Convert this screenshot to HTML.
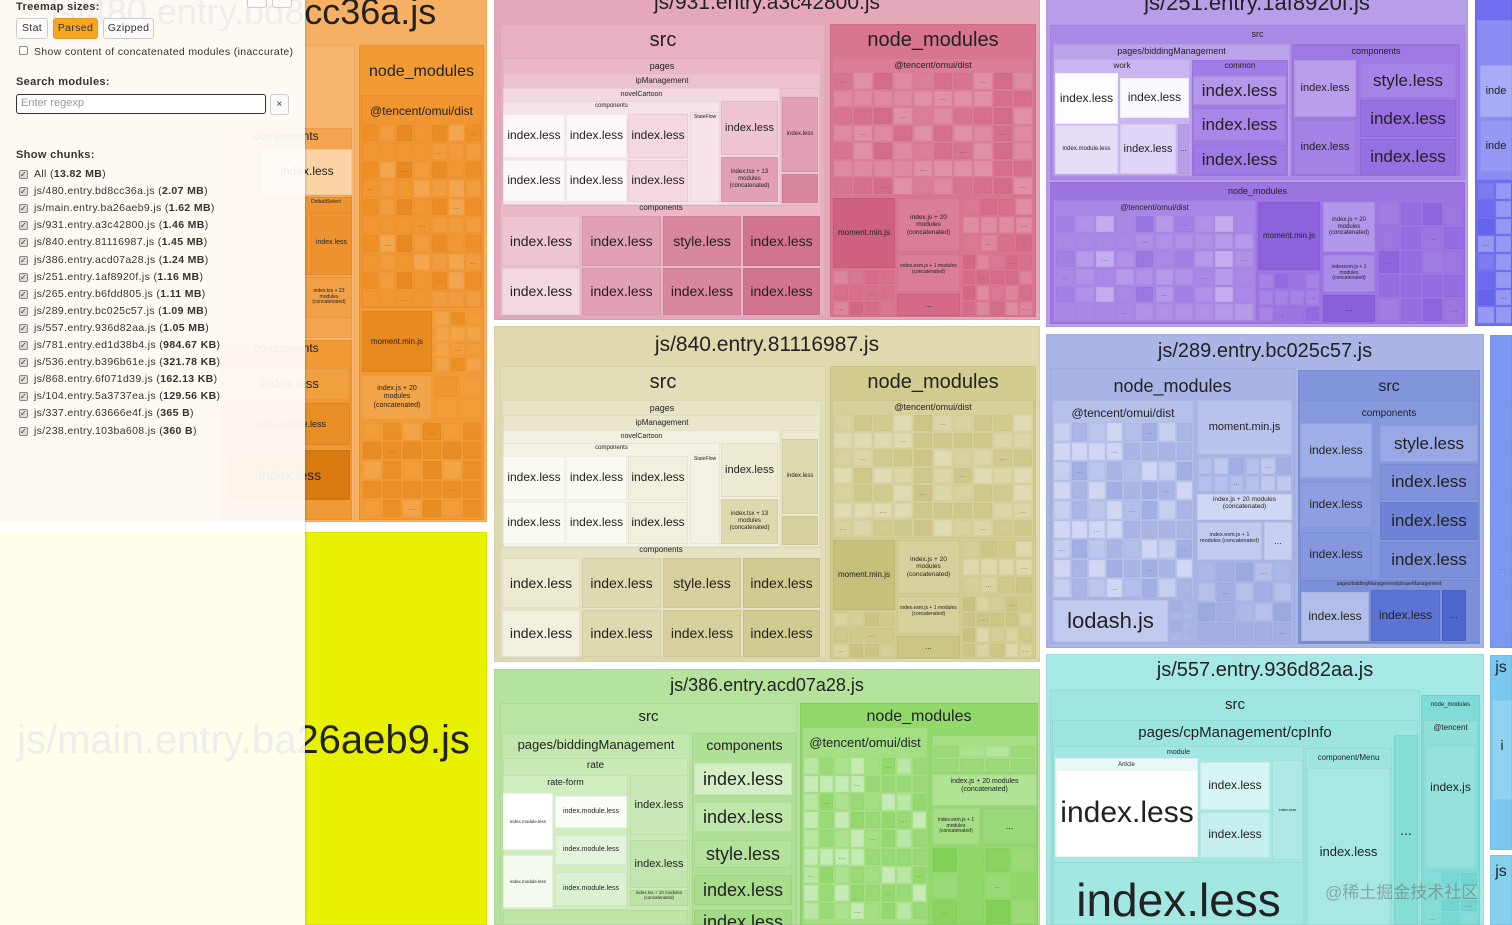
<!DOCTYPE html>
<html><head><meta charset="utf-8">
<style>
html,body{margin:0;padding:0;width:1512px;height:925px;overflow:hidden;background:#fff;font-family:"Liberation Sans","DejaVu Sans",sans-serif;}
#root{position:absolute;left:0;top:0;width:1512px;height:925px;overflow:hidden;}
.b{position:absolute;box-sizing:border-box;box-shadow:inset 0 0 0 1px rgba(0,0,0,0.05);overflow:hidden;}
.b span{position:absolute;left:0;right:0;text-align:center;white-space:nowrap;color:#222;}
#side{position:absolute;left:0;top:0;width:305px;height:925px;background:rgba(255,255,255,0.92);box-shadow:1px 0 2px rgba(0,0,0,0.15);font-size:10.5px;color:#333;letter-spacing:0.35px;}
#side .h{position:absolute;left:16px;font-weight:bold;font-size:11px;}
.btn{position:absolute;top:18px;height:21px;border:1px solid #ccc;border-radius:3px;background:#fafafa;box-sizing:border-box;font-size:10.5px;line-height:19px;text-align:center;}
.cb{position:absolute;left:19px;width:9px;height:9px;border:1px solid #888;border-radius:2px;background:#ddd;box-sizing:border-box;font-size:8px;line-height:8px;text-align:center;color:#333;}
.it{position:absolute;left:34px;white-space:nowrap;}
</style></head>
<body>
<div id="root"></div>
<div id="side">
  <div class="h" style="top:1px">Treemap sizes:</div>
  <div class="btn" style="left:247px;top:-6px;width:20px;height:14px"></div>
  <div class="btn" style="left:272px;top:-6px;width:20px;height:14px"></div>
  <div class="btn" style="left:16px;width:32px">Stat</div>
  <div class="btn" style="left:53px;width:45px;background:#f5a623;border-color:#e39a1c">Parsed</div>
  <div class="btn" style="left:103px;width:51px">Gzipped</div>
  <div class="cb" style="top:46px;background:#fff"></div>
  <div class="it" style="top:46px">Show content of concatenated modules (inaccurate)</div>
  <div class="h" style="top:76px">Search modules:</div>
  <div style="position:absolute;left:16px;top:94px;width:250px;height:20px;border:1.5px solid #333;border-radius:3px;box-sizing:border-box;background:#fff;color:#999;font-size:11px;line-height:17px;padding-left:4px;letter-spacing:0">Enter regexp</div>
  <div class="btn" style="left:270px;top:94px;width:19px;height:21px;font-size:10px">×</div>
  <div class="h" style="top:149px">Show chunks:</div>
  <div id="chunks"></div>
</div>
<script>
const root=document.getElementById('root');
function B(name,x1,y1,x2,y2,bg,txt,fs,cy){
  const el=document.createElement('div');
  el.className='b';
  el.style.left=x1+'px';el.style.top=y1+'px';el.style.width=(x2-x1)+'px';el.style.height=(y2-y1)+'px';
  el.style.background=bg;
  
  
  if(txt){
    const s=document.createElement('span');
    s.textContent=txt;
    s.style.fontSize=fs+'px';
    s.style.lineHeight=(fs*1.15)+'px';
    if(txt.indexOf('(concatenated)')>=0){s.style.whiteSpace='normal';s.style.padding='0 2px';}
    const c=(cy==null)?(y2-y1)/2:(cy-y1);
    const lines=(txt.indexOf('(concatenated)')>=0)?3:1;
    s.style.top=(c-fs*0.575*lines)+'px';
    el.appendChild(s);
  }
  root.appendChild(el);
  return el;
}
function tex(x1,y1,x2,y2,cols,rows,colors,seed){
  const w=(x2-x1)/cols,h=(y2-y1)/rows;
  for(let i=0;i<cols;i++)for(let j=0;j<rows;j++){
    const k=(i*5+j*3+seed+(i*j)%4)%colors.length;
    const el=document.createElement('div');
    el.className='b';
    el.style.left=(x1+i*w+1)+'px';el.style.top=(y1+j*h+1)+'px';
    el.style.width=(w-2)+'px';el.style.height=(h-2)+'px';
    el.style.background=colors[k];
    el.style.opacity='0.45';
    
    
    if((i+j*2+seed)%7===0&&w>14){const s=document.createElement('span');s.textContent='...';s.style.fontSize='8px';s.style.top=(h/2-6)+'px';el.appendChild(s);}
    root.appendChild(el);
  }
}

/* ---- chunk 480 (orange) ---- */
B('chunk-480',0,-10,487,522,'#f6b064','js/480.entry.bd8cc36a.js',36,12);
B('src-480',6,45,355,520,'#f7b46c');
B('components-480',220,128,352,338,'#f5a550','components',12,137);
B('index-less-480a',262,149,352,195,'#fbd3a5','index.less',12);
B('default-select-480',300,197,352,275,'#ef9430','DefaultSelect',5,203);
B('index-less-480b',311,212,352,275,'#ee9330','index.less',7);
B('index-tsx-480',306,277,352,318,'#f2a048','index.tsx + 23 modules (concatenated)',5);
B('components-480b',220,340,352,520,'#f19a35','components',12,349);
B('index-less-480c',230,368,350,400,'#f1a040','index.less',13);
B('module-less-480',230,403,350,445,'#e98d25','index.module.less',9);
B('index-less-480d',230,450,350,500,'#d97a10','index.less',14);
B('node-modules-480',359,45,484,520,'#f29b35','node_modules',16,72);
B('omui-480',361,95,482,308,'#f09530','@tencent/omui/dist',12,112);
tex(362,124,482,308,7,10,['#f3a650','#ec8c1c','#f7bb78','#e88516','#f09b35','#e07c10'],1);
B('moment-480',362,311,432,372,'#e98a20','moment.min.js',8);
tex(434,311,482,372,3,4,['#f0a040','#e48418','#f5b060'],2);
B('rc-trigger-480',362,375,432,420,'#f2a448','index.js + 20 modules (concatenated)',7);
tex(434,375,482,420,2,2,['#f0a040','#ea9028'],3);
tex(362,422,482,518,6,5,['#f0a040','#e48418','#f5b060','#dc7a10'],4);

/* ---- main (yellow) ---- */
B('chunk-main',0,532,487,925,'#e8f200','js/main.entry.ba26aeb9.js',40,740);

/* ---- 931 / 840 shared layout ---- */
function chunkA(id,dy,t,P){
  B('chunk-'+id,494,-16+dy,1040,320+dy,P.chunk,t,21,3+dy);
  B('src-'+id,500,24+dy,826,317+dy,P.src,'src',20,40+dy);
  B('pages-'+id,502,58+dy,822,205+dy,P.pages,'pages',9,66+dy);
  B('ip-management-'+id,503,73+dy,821,205+dy,P.pages2,'ipManagement',8,81+dy);
  B('novel-cartoon-'+id,503,88+dy,780,205+dy,P.light,'novelCartoon',7,95+dy);
  B('components-'+id,503,101+dy,720,205+dy,P.light2,'components',6,106+dy);
  const xs=[[503,565],[566,627],[628,688]];
  xs.forEach((x,i)=>{
    B('index-less-'+id,x[0],114+dy,x[1],158+dy,i==2?P.light:P.white,'index.less',12);
    B('index-less-'+id,x[0],160+dy,x[1],202+dy,i==2?P.light:P.white,'index.less',12);
  });
  B('state-flow-'+id,690,112+dy,720,202+dy,P.light2,'StateFlow',5,118+dy);
  B('index-less-'+id,721,101+dy,778,155+dy,P.c1,'index.less',11);
  B('index-tsx-'+id,721,157+dy,778,202+dy,P.c2,'index.tsx + 13 modules (concatenated)',6);
  B('folder-'+id,781,88+dy,820,205+dy,P.c1);
  B('index-less-'+id,782,97+dy,818,172+dy,P.c2,'index.less',6);
  B('folder-small-'+id,782,174+dy,818,203+dy,P.c3);
  B('components-bottom-'+id,500,205+dy,822,316+dy,P.pages,'components',8,208+dy);
  const bx=[[502,580],[582,661],[663,741],[743,820]];
  const n1=['index.less','index.less','style.less','index.less'];
  const cs=[P.c1,P.c2,P.c3,P.c4];
  bx.forEach((x,i)=>{
    B('index-less-'+id,x[0],216+dy,x[1],266+dy,cs[i],n1[i],14);
    B('index-less-'+id,x[0],268+dy,x[1],315+dy,i==0?P.light:cs[i],'index.less',14);
  });
  B('node-modules-'+id,830,24+dy,1036,317+dy,P.nm,'node_modules',20,40+dy);
  B('omui-'+id,832,58+dy,1034,196+dy,P.nm2,'@tencent/omui/dist',9,65+dy);
  tex(833,72+dy,1033,195+dy,10,7,P.cells,dy%5);
  B('moment-'+id,833,198+dy,895,268+dy,P.cells[1],'moment.min.js',8);
  B('rc-trigger-'+id,897,198+dy,960,252+dy,P.nm2,'index.js + 20 modules (concatenated)',6.5);
  tex(962,198+dy,1033,252+dy,4,3,P.cells,2);
  B('react-window-'+id,897,254+dy,960,292+dy,P.nm2,'index.esm.js + 1 modules (concatenated)',5);
  B('popperjs-'+id,897,294+dy,960,316+dy,P.cells[0],'...',8);
  tex(833,270+dy,895,316+dy,4,3,P.cells,3);
  tex(962,254+dy,1033,316+dy,5,4,P.cells,4);
}
chunkA('931',0,'js/931.entry.a3c42800.js',{chunk:'#e5a8bb',src:'#e8b0c1',pages:'#eab8c8',pages2:'#edc2d0',light:'#f3d8e1',light2:'#f6e2e8',white:'#fdf7f9',c1:'#efc5d2',c2:'#e2a0b5',c3:'#d9869f',c4:'#d27490',nm:'#d9758f',nm2:'#db7d96',cells:['#d46a88','#cf6080','#dc8099','#e39cb0','#c9587a','#e8aabb']});
chunkA('840',342,'js/840.entry.81116987.js',{chunk:'#dedaae',src:'#e2dfb8',pages:'#e6e3c4',pages2:'#e9e6cb',light:'#f1efdd',light2:'#f4f2e5',white:'#fbfaf2',c1:'#ecead0',c2:'#dedaaf',c3:'#d6d19c',c4:'#d0cb90',nm:'#d2cc90',nm2:'#d6d09a',cells:['#ccc684','#c6c07a','#d9d5a4','#e3e0bb','#c0b970','#ebe9cf']});

/* ---- 251 (purple) ---- */
B('chunk-251',1046,-14,1468,327,'#b89de9','js/251.entry.1af8920f.js',22,3);
B('src-251',1050,25,1465,180,'#ab89e7','src',9,34);
B('pages-251',1053,44,1290,176,'#bba3ec','pages/biddingManagement',9,51);
B('work-251',1054,59,1190,175,'#c9b6f0','work',8,66);
B('index-less-251',1055,73,1118,124,'#fdfcff','index.less',12);
B('index-less-251',1120,78,1189,118,'#fbf9ff','index.less',12);
B('index-module-less-251',1055,125,1118,174,'#e5dcf7','index.module.less',6);
B('index-less-251',1120,124,1176,174,'#e0d5f6','index.less',11);
B('more-251',1178,124,1189,174,'#b89de9','...',8);
B('common-251',1192,60,1288,176,'#a17be6','common',8,66);
B('index-less-251',1193,76,1286,105,'#b496ea','index.less',17);
B('index-less-251',1193,108,1286,141,'#a986e8','index.less',17);
B('index-less-251',1193,145,1286,175,'#a07ae5','index.less',17);
B('components-251',1292,44,1460,176,'#9f78e4','components',9,51);
B('index-less-251',1294,60,1356,117,'#b99eec','index.less',11);
B('index-less-251',1294,120,1356,175,'#a482e6','index.less',11);
B('style-less-251',1360,63,1456,98,'#a684e7','style.less',17);
B('index-less-251',1360,100,1456,137,'#9770e2','index.less',17);
B('index-less-251',1360,139,1456,175,'#9470e0','index.less',17);
B('node-modules-251',1050,182,1465,324,'#9d74e2','node_modules',9,191);
B('omui-251',1053,200,1256,322,'#a886e6','@tencent/omui/dist',8,208);
tex(1055,215,1254,321,10,6,['#b9a0ec','#9f7ae4','#c7b3f0','#8f66de','#ad8ee8','#e6ddf8'],1);
B('moment-251',1258,202,1320,270,'#8e62dc','moment.min.js',8);
tex(1258,273,1320,322,4,3,['#9f7ae4','#8a5fdb','#b197ea'],2);
B('rc-trigger-251',1323,202,1375,252,'#b097ea','index.js + 20 modules (concatenated)',6);
B('react-window-251',1323,255,1375,292,'#a98ee8','indexesm.js + 1 modules (concatenated)',5);
B('popperjs-251',1323,295,1375,322,'#8a5fdb','...',8);
tex(1378,202,1465,322,4,5,['#8f66de','#7f52d6','#9f7ae4','#a886e6'],3);

/* ---- right strip top ---- */
B('chunk-265',1475,-5,1512,326,'#6f6ff0');
B('src-265',1477,20,1512,180,'#8a8df2');
B('index-less-265',1480,65,1512,117,'#a8acf6','inde',11);
B('index-less-265',1480,120,1512,172,'#9598f4','inde',11);
tex(1477,182,1512,324,2,8,['#6a66ee','#8a8df2','#c8cbf8','#5b57ea'],1);

/* ---- 289 (blue) ---- */
B('chunk-289',1046,334,1484,648,'#aab6e6','js/289.entry.bc025c57.js',20,351);
B('node-modules-289',1050,368,1295,644,'#a8b4e6','node_modules',18,386);
B('omui-289',1052,400,1194,598,'#b4bfea','@tencent/omui/dist',12,414);
tex(1053,422,1193,598,8,9,['#c8d0f0','#9eabe2','#dfe4f7','#8d9cdd','#b2bdea','#f4f6fc'],2);
B('lodash-289',1053,600,1168,642,'#c2cbef','lodash.js',22);
tex(1170,600,1193,642,2,4,['#b2bdea','#9eabe2'],1);
B('moment-289',1197,400,1292,455,'#b8c2ec','moment.min.js',11);
tex(1197,457,1292,492,6,2,['#c8d0f0','#9eabe2','#dfe4f7'],3);
B('rc-trigger-289',1197,494,1292,520,'#d0d7f2','index.js + 20 modules (concatenated)',6.5);
B('react-window-289',1197,522,1262,560,'#c2cbef','index.esm.js + 1 modules (concatenated)',5.5);
B('more-289',1264,522,1292,560,'#c8d0f0','...',9);
tex(1197,562,1292,642,5,4,['#b2bdea','#9eabe2','#8d9cdd','#c8d0f0'],4);
B('src-289',1298,370,1480,644,'#8294dc','src',16,387);
B('components-289',1299,400,1479,580,'#8799dd','components',10,414);
B('index-less-289',1300,423,1372,478,'#9eaee6','index.less',12);
B('index-less-289',1300,482,1372,528,'#8d9fe2','index.less',12);
B('index-less-289',1300,532,1372,578,'#8597df','index.less',12);
B('style-less-289',1380,425,1478,462,'#98a8e4','style.less',17);
B('index-less-289',1380,464,1478,500,'#8092dc','index.less',17);
B('index-less-289',1380,502,1478,540,'#6f84d6','index.less',17);
B('index-less-289',1380,542,1478,578,'#7c8fda','index.less',17);
B('pages-289',1300,580,1478,643,'#7b8fdb','pages/biddingManagement/phaseManagement',5,585);
B('index-less-289',1301,592,1369,641,'#b2bdea','index.less',12);
B('index-less-289',1371,590,1440,641,'#5c74d2','index.less',12);
B('more-289',1442,590,1466,641,'#4d66cc','...',9);
B('chunk-right-289',1490,335,1512,648,'#7d98f0');
tex(1492,400,1512,640,1,5,['#9eb3f4','#7d98f0','#b8c8f6'],1);

/* ---- 386 (green) ---- */
B('chunk-386',494,669,1040,925,'#b6e39c','js/386.entry.acd07a28.js',18,685);
B('src-386',500,703,797,925,'#b9e4a1','src',15,717);
B('pages-386',502,733,690,925,'#c2e8ad','pages/biddingManagement',13,745);
B('rate-386',503,758,688,925,'#c8eab5','rate',10,766);
B('rate-form-386',503,775,628,910,'#d0edc0','rate-form',9,782);
B('index-module-less-386',503,793,553,850,'#ffffff','index.module.less',4.5);
B('index-module-less-386',503,855,553,908,'#f3fbef','index.module.less',4.5);
B('index-module-less-386',555,796,627,828,'#fafdf8','index.module.less',7);
B('index-module-less-386',555,835,627,865,'#e4f4dc','index.module.less',7);
B('index-module-less-386',555,872,627,906,'#dcf1d2','index.module.less',7);
B('index-less-386',630,775,688,835,'#cbe9b8','index.less',11);
B('index-less-386',630,840,688,888,'#c3e6ae','index.less',11);
B('index-tsx-386',630,890,688,906,'#bde4a6','index.tsx + 10 modules (concatenated)',4.5);
B('bottom-386',503,910,688,925,'#bfe5a8');
B('components-386',692,733,797,925,'#b0e095','components',14,745);
B('index-less-386',694,763,792,795,'#d4efc6','index.less',18);
B('index-less-386',694,802,792,832,'#c0e7ab','index.less',18);
B('style-less-386',694,840,792,868,'#b4e29c','style.less',18);
B('index-less-386',694,875,792,905,'#a8dd8c','index.less',18);
B('index-less-386',694,910,792,925,'#a2da85','index.less',18,922);
B('node-modules-386',800,703,1038,925,'#92d96c','node_modules',16,717);
B('omui-386',802,727,928,925,'#a4df84','@tencent/omui/dist',13,743);
tex(803,757,927,920,8,9,['#b8e6a0','#8ed566','#d8f1cc','#7fcf52','#a6df86','#f2faee'],2);
B('core-js-pure-386',932,735,1037,772,'#a6df86');
tex(933,745,1036,771,4,2,['#b8e6a0','#8ed566','#c8ebb5'],1);
B('rc-trigger-386',932,774,1037,806,'#b0e393','index.js + 20 modules (concatenated)',7);
B('react-window-386',932,808,980,845,'#a6de87','index.esm.js + 1 modules (concatenated)',5);
B('more-386',982,808,1037,845,'#9ad97a','...',9);
tex(932,847,1037,925,4,3,['#8ed566','#7fcf52','#a6df86','#6cc83c'],3);

/* ---- 557 (cyan) ---- */
B('chunk-557',1046,654,1484,925,'#a6e8e5','js/557.entry.936d82aa.js',20,670);
B('src-557',1050,690,1420,925,'#9fe6e2','src',15,705);
B('cpinfo-557',1052,720,1418,925,'#9be4e0','pages/cpManagement/cpInfo',15,733);
B('module-557',1053,746,1304,925,'#a3e7e3','module',7,753);
B('article-557',1055,758,1198,857,'#e6f8f7','Article',6,765);
B('index-less-557',1056,770,1198,857,'#ffffff','index.less',30);
B('index-less-557',1200,762,1270,810,'#d6f4f2','index.less',12);
B('index-less-557',1200,812,1270,858,'#c4efec','index.less',12);
B('small-557',1272,760,1303,860,'#aee9e6','index.less',4);
B('index-less-big-557',1053,862,1304,925,'#a3e7e3','index.less',46,900);
B('menu-557',1305,748,1392,925,'#9ee5e1','component/Menu',8,758);
B('index-less-557',1307,768,1390,925,'#a8e8e4','index.less',13,852);
B('more-557',1394,735,1418,925,'#85ddd8','...',14);
B('node-modules-557',1421,695,1480,925,'#7fdcd6','node_modules',6,705);
B('tencent-557',1423,720,1478,870,'#8fe0db','@tencent',8,728);
B('index-js-557',1425,745,1476,868,'#94e2dd','index.js',12,788);
tex(1423,872,1478,925,3,4,['#6fd6d0','#8fe0db','#5ecfc8'],1);
B('chunk-right-557',1490,655,1512,850,'#7ac8ef','js',16,668);
B('index-right-557',1492,700,1512,800,'#8fd2f2','i',14,745);
B('chunk-right-557b',1490,855,1512,925,'#86d0f0','js',16,872);

/* watermark */
const wm=document.createElement('div');
wm.textContent='@稀土掘金技术社区';
wm.style.cssText='position:absolute;left:1325px;top:878px;font-size:17px;color:rgba(110,110,110,0.55);font-family:"Liberation Sans","Noto Sans CJK SC",sans-serif;white-space:nowrap;';


root.appendChild(wm);

/* chunk list */
const chunkNames=['All','js/480.entry.bd8cc36a.js','js/main.entry.ba26aeb9.js','js/931.entry.a3c42800.js','js/840.entry.81116987.js','js/386.entry.acd07a28.js','js/251.entry.1af8920f.js','js/265.entry.b6fdd805.js','js/289.entry.bc025c57.js','js/557.entry.936d82aa.js','js/781.entry.ed1d38b4.js','js/536.entry.b396b61e.js','js/868.entry.6f071d39.js','js/104.entry.5a3737ea.js','js/337.entry.63666e4f.js','js/238.entry.103ba608.js'];
const chunkSizes=['13.82 MB','2.07 MB','1.62 MB','1.46 MB','1.45 MB','1.24 MB','1.16 MB','1.11 MB','1.09 MB','1.05 MB','984.67 KB','321.78 KB','162.13 KB','129.56 KB','365 B','360 B'];
const list=document.getElementById('chunks');
chunkNames.forEach((n,i)=>{
  const y=170+i*17.1;
  const c=document.createElement('div');
  c.className='cb';c.style.top=y+'px';c.textContent='✓';
  
  
  list.appendChild(c);
  const t=document.createElement('div');
  t.className='it';t.style.top=(y-2)+'px';
  t.innerHTML=n+' (<b>'+chunkSizes[i]+'</b>)';
  
  
  list.appendChild(t);
});
</script>
</body></html>
